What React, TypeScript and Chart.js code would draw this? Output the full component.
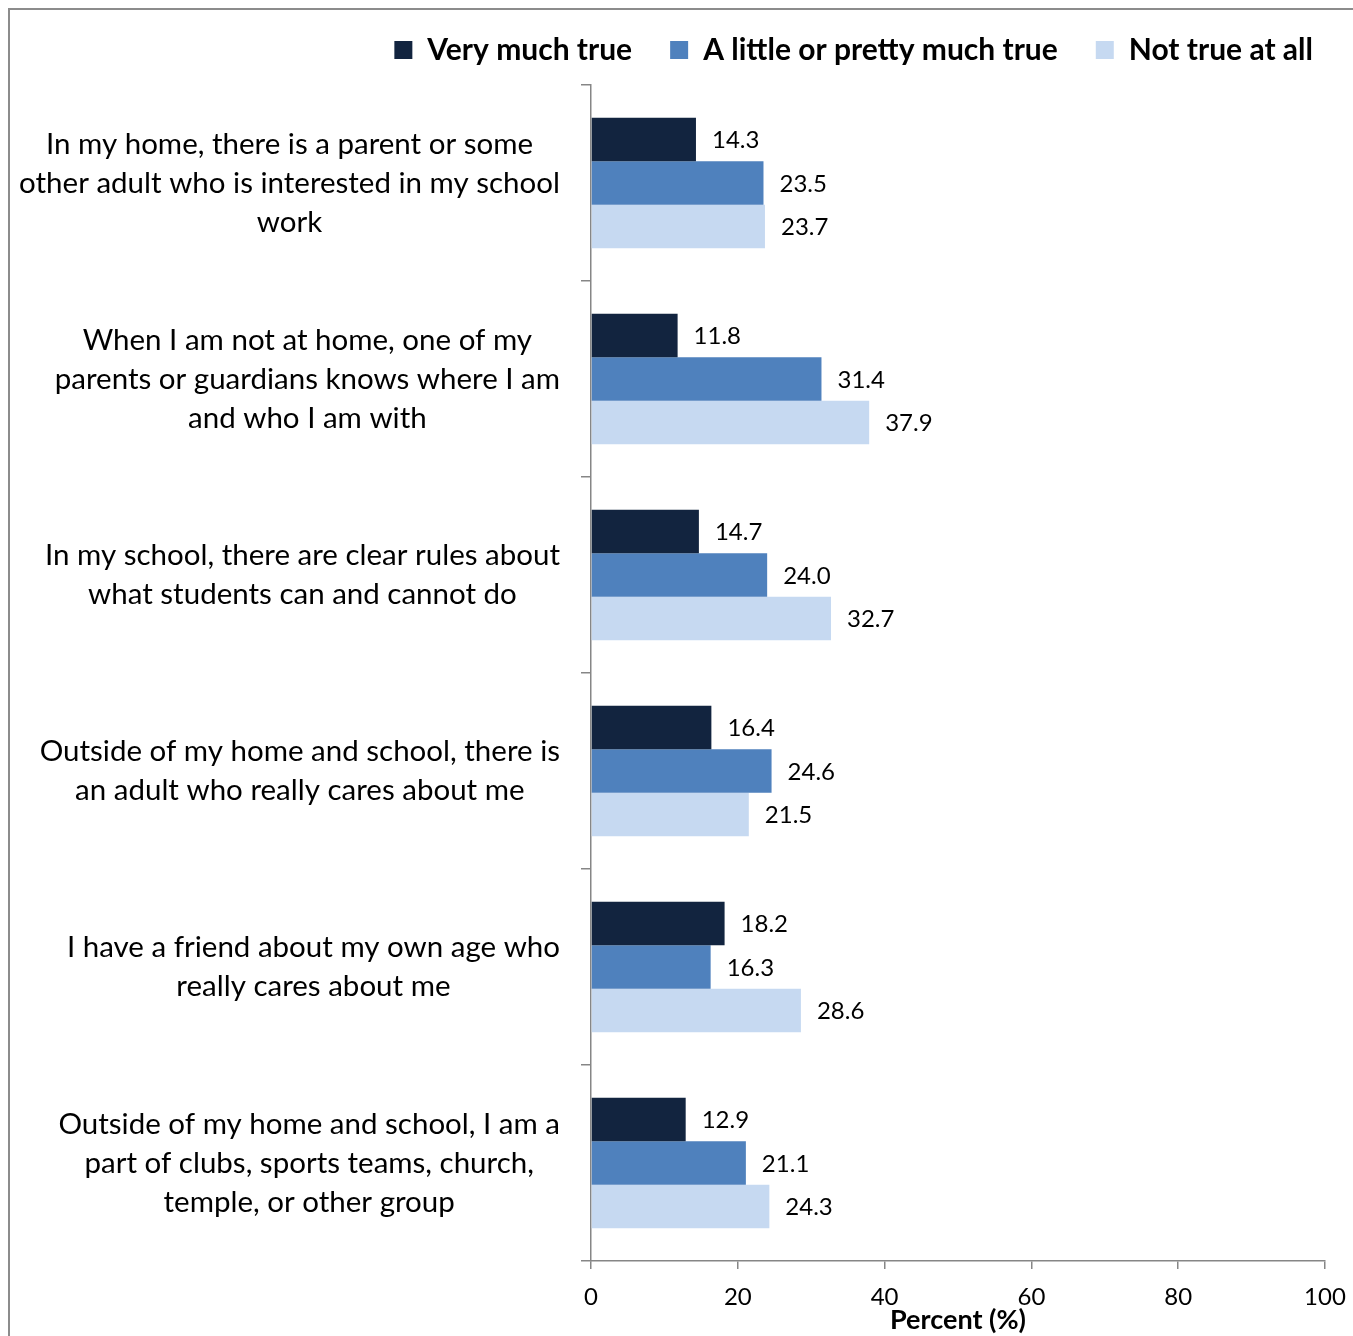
import React, { useEffect, useRef } from 'react';
import { Chart, registerables } from 'chart.js';

Chart.register(...registerables);

const categories: string[][] = [
  ['In my home, there is a parent or some', 'other adult who is interested in my school', 'work'],
  ['When I am not at home, one of my', 'parents or guardians knows where I am', 'and who I am with'],
  ['In my school, there are clear rules about', 'what students can and cannot do'],
  ['Outside of my home and school, there is', 'an adult who really cares about me'],
  ['I have a friend about my own age who', 'really cares about me'],
  ['Outside of my home and school, I am a', 'part of clubs, sports teams, church,', 'temple, or other group'],
];
const seriesNames = ['Very much true', 'A little or pretty much true', 'Not true at all'];
const veryMuchTrue = [14.3, 11.8, 14.7, 16.4, 18.2, 12.9];
const littleTrue = [23.5, 31.4, 24.0, 24.6, 16.3, 21.1];
const notTrue = [23.7, 37.9, 32.7, 21.5, 28.6, 24.3];
const xTicks = [0, 20, 40, 60, 80, 100];
const xTitle = 'Percent (%)';
const seriesColors = ['#12243F', '#4F81BD', '#C6D9F1'];

const FONT = 'Lato, "Open Sans", sans-serif';
const AXIS_GRAY = '#868686';

const categoryLabelsPlugin = {
  id: 'categoryLabels',
  afterDraw(chart: any) {
    const ctx = chart.ctx;
    const y = chart.scales.y;
    const rightEdge = y.right - 31;
    const lh = 39;
    ctx.save();
    ctx.font = `29.5px ${FONT}`;
    ctx.fillStyle = '#000';
    ctx.textBaseline = 'middle';
    ctx.textAlign = 'center';
    categories.forEach((lines, i) => {
      const cy = y.getPixelForValue(i);
      const maxW = Math.max(...lines.map((l) => ctx.measureText(l).width));
      const cx = rightEdge - maxW / 2;
      lines.forEach((line, k) => {
        ctx.fillText(line, cx, cy + (k - (lines.length - 1) / 2) * lh);
      });
    });
    ctx.restore();
  },
};

const valueLabelsPlugin = {
  id: 'valueLabels',
  afterDatasetsDraw(chart: any) {
    const ctx = chart.ctx;
    ctx.save();
    ctx.font = `24px ${FONT}`;
    ctx.fillStyle = '#000';
    ctx.textBaseline = 'middle';
    ctx.textAlign = 'left';
    chart.data.datasets.forEach((ds: any, di: number) => {
      const meta = chart.getDatasetMeta(di);
      meta.data.forEach((bar: any, i: number) => {
        ctx.fillText(Number(ds.data[i]).toFixed(1), bar.x + 16, bar.y + 1);
      });
    });
    ctx.restore();
  },
};

const legendPlacePlugin = {
  id: 'legendPlace',
  beforeInit(chart: any) {
    const lg = chart.legend;
    if (!lg) return;
    const fit = lg.fit;
    lg.fit = function () {
      fit.call(this);
      this.height = 85;
    };
  },
  beforeDraw(chart: any) {
    const lg = chart.legend;
    if (!lg) return;
    lg.top = -3;
    lg.right = 1351;
  },
};

export default function App() {
  const ref = useRef<HTMLCanvasElement>(null);
  useEffect(() => {
    if (!ref.current) return;
    const chart = new Chart(ref.current, {
      type: 'bar',
      data: {
        labels: categories.map((c) => c.join(' ')),
        datasets: [
          { label: seriesNames[0], data: veryMuchTrue, backgroundColor: seriesColors[0] },
          { label: seriesNames[1], data: littleTrue, backgroundColor: seriesColors[1] },
          { label: seriesNames[2], data: notTrue, backgroundColor: seriesColors[2] },
        ],
      },
      options: {
        indexAxis: 'y',
        animation: false,
        responsive: false,
        devicePixelRatio: 1,
        layout: { padding: { left: 0, right: 28, top: 0, bottom: 0 } },
        datasets: { bar: { categoryPercentage: 0.665, barPercentage: 1 } },
        plugins: {
          legend: {
            position: 'top',
            align: 'end',
            labels: {
              boxWidth: 18,
              boxHeight: 18,
              padding: 38,
              color: '#000',
              font: { family: FONT, size: 30, weight: 'bold' },
            },
          },
          tooltip: { enabled: false },
        },
        scales: {
          x: {
            type: 'linear',
            min: 0,
            max: 100,
            afterBuildTicks: (scale: any) => {
              scale.ticks = xTicks.map((v) => ({ value: v }));
            },
            afterFit: (scale: any) => {
              scale.height = 75;
              scale.paddingRight = 0;
            },
            grid: { drawOnChartArea: false, drawTicks: true, tickLength: 8, color: AXIS_GRAY, lineWidth: 1.5 },
            border: { display: true, color: AXIS_GRAY, width: 1.5 },
            ticks: { color: '#000', padding: 14, font: { family: FONT, size: 24 }, maxRotation: 0 },
            title: {
              display: true,
              text: xTitle,
              color: '#000',
              font: { family: FONT, size: 27, weight: 'bold' },
              padding: { top: 0, bottom: 0 },
            },
          },
          y: {
            type: 'category',
            offset: true,
            afterFit: (scale: any) => {
              scale.width = 591;
            },
            grid: { offset: true, drawOnChartArea: false, drawTicks: true, tickLength: 10, color: AXIS_GRAY, lineWidth: 1.5 },
            border: { display: true, color: AXIS_GRAY, width: 1.5 },
            ticks: { display: false },
          },
        },
      },
      plugins: [categoryLabelsPlugin, valueLabelsPlugin, legendPlacePlugin],
    } as any);
    return () => chart.destroy();
  }, []);

  return (
    <div style={{ position: 'fixed', left: 0, top: 0, width: 1353, height: 1336, overflow: 'hidden', background: '#fff' }}>
      <div
        style={{
          position: 'absolute',
          left: 8,
          top: 8,
          width: 2000,
          height: 2000,
          border: '2px solid #8C8C8C',
          pointerEvents: 'none',
        }}
      />
      <canvas ref={ref} width={1353} height={1336} style={{ position: 'absolute', left: 0, top: 0, width: 1353, height: 1336 }} />
    </div>
  );
}
